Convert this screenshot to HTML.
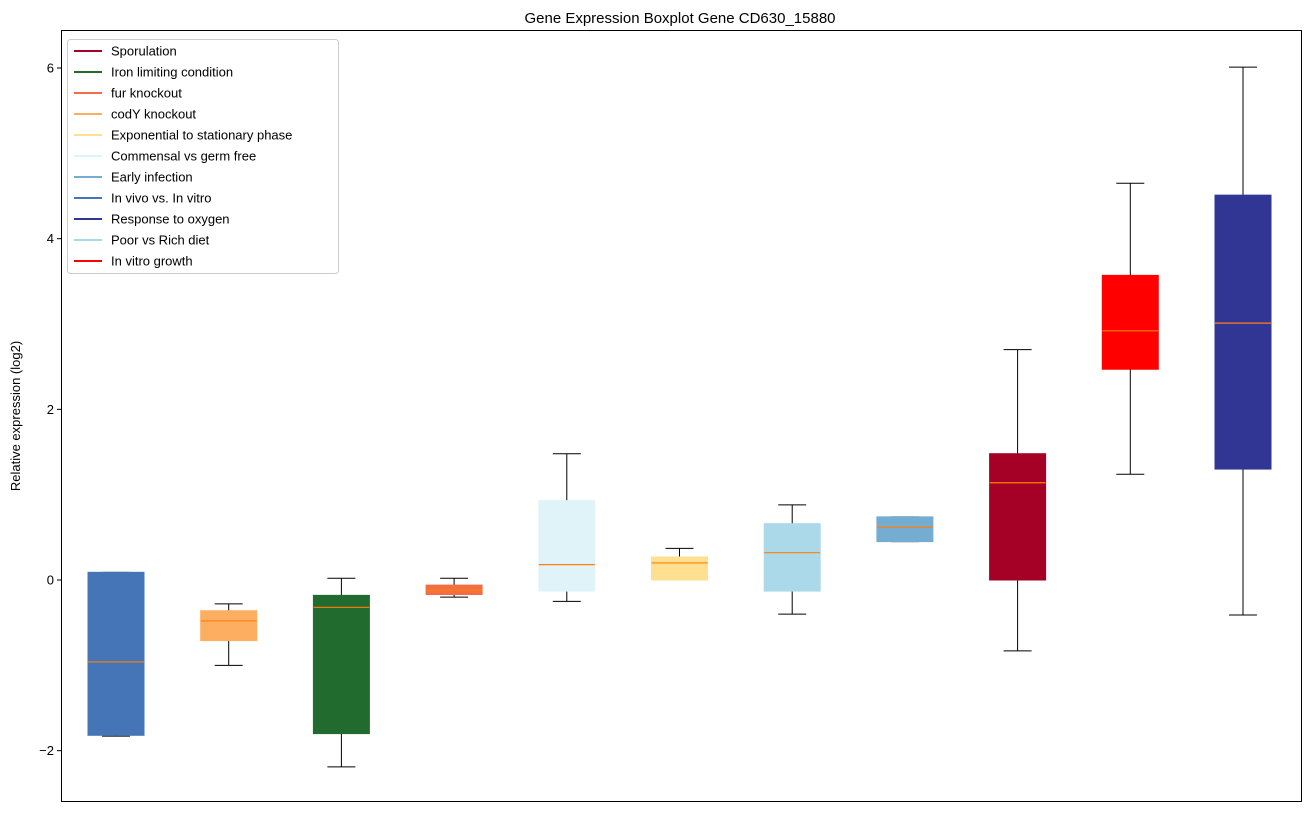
<!DOCTYPE html>
<html><head><meta charset="utf-8"><style>
body{margin:0;background:#fff;font-family:"Liberation Sans","DejaVu Sans",sans-serif}
svg text{font-family:"Liberation Sans","DejaVu Sans",sans-serif}
</style></head><body>
<svg id="chart" width="1309" height="812" xmlns="http://www.w3.org/2000/svg">
<text x="680" y="23" font-size="15" text-anchor="middle">Gene Expression Boxplot Gene CD630_15880</text>
<text transform="translate(20,416) rotate(-90)" font-size="13" text-anchor="middle">Relative expression (log2)</text>
<g id="plot"></g>
<rect x="61.5" y="30.5" width="1240" height="771" fill="none" stroke="#000" stroke-width="1"/>
<g id="legend"></g>
</svg>
<script>
const categories=["In vivo vs. In vitro","codY knockout","Iron limiting condition","fur knockout","Commensal vs germ free","Exponential to stationary phase","Poor vs Rich diet","Early infection","Sporulation","In vitro growth","Response to oxygen"];
const colors=["#4575b7","#fdae61","#226b2e","#f46d43","#e0f3f8","#fee090","#abd9e9","#74add1","#a50026","#ff0000","#313695"];
const whiskerLow=[-1.83,-1.0,-2.19,-0.2,-0.25,0.0,-0.4,0.45,-0.83,1.24,-0.41];
const q1=[-1.82,-0.71,-1.8,-0.17,-0.13,0.0,-0.13,0.45,0.0,2.47,1.3];
const median=[-0.96,-0.48,-0.32,-0.12,0.18,0.2,0.32,0.62,1.14,2.92,3.01];
const q3=[0.09,-0.36,-0.18,-0.06,0.93,0.27,0.66,0.74,1.48,3.57,4.51];
const whiskerHigh=[0.09,-0.28,0.02,0.02,1.48,0.37,0.88,0.74,2.7,4.65,6.01];
const yTicks=[-2,0,2,4,6];
const legendLabels=["Sporulation","Iron limiting condition","fur knockout","codY knockout","Exponential to stationary phase","Commensal vs germ free","Early infection","In vivo vs. In vitro","Response to oxygen","Poor vs Rich diet","In vitro growth"];
const legendColors=["#a50026","#226b2e","#f46d43","#fdae61","#fee090","#e0f3f8","#74add1","#4575b7","#313695","#abd9e9","#ff0000"];

const NS="http://www.w3.org/2000/svg";
const y=v=>580-v*85.33;
const x=i=>116+i*112.7;
const plot=document.getElementById('plot');
function mk(tag,attrs,parent){const e=document.createElementNS(NS,tag);for(const k in attrs)e.setAttribute(k,attrs[k]);parent.appendChild(e);return e;}
yTicks.forEach(t=>{
  const g=mk('g',{},plot);
  
  
  mk('line',{x1:57,x2:61,y1:y(t),y2:y(t),stroke:'#000'},g);
  const tx=mk('text',{x:54,y:y(t)+4.5,'font-size':13,'text-anchor':'end'},g);
  tx.textContent=t<0?'\u2212'+Math.abs(t):String(t);
});
categories.forEach((c,i)=>{
  const g=mk('g',{},plot);
  
  
  const cx=x(i),hw=28,cw=14;
  mk('line',{x1:cx,x2:cx,y1:y(q3[i]),y2:y(whiskerHigh[i]),stroke:'#000'},g);
  mk('line',{x1:cx,x2:cx,y1:y(q1[i]),y2:y(whiskerLow[i]),stroke:'#000'},g);
  mk('line',{x1:cx-cw,x2:cx+cw,y1:y(whiskerHigh[i]),y2:y(whiskerHigh[i]),stroke:'#000'},g);
  mk('line',{x1:cx-cw,x2:cx+cw,y1:y(whiskerLow[i]),y2:y(whiskerLow[i]),stroke:'#000'},g);
  mk('rect',{x:cx-hw,y:y(q3[i]),width:2*hw,height:Math.max(1,y(q1[i])-y(q3[i])),fill:colors[i],stroke:colors[i]},g);
  mk('line',{x1:cx-hw,x2:cx+hw,y1:y(median[i]),y2:y(median[i]),stroke:'#ff7f0e','stroke-width':1.2},g);
});
const lg=document.getElementById('legend');
mk('rect',{x:67.5,y:39.5,width:271,height:234,fill:'#fff',stroke:'#ccc',rx:3},lg);
legendLabels.forEach((l,i)=>{
  const g=mk('g',{},lg);
  
  
  const yy=51+i*21;
  mk('line',{x1:74,x2:102,y1:yy,y2:yy,stroke:legendColors[i],'stroke-width':2},g);
  const t=mk('text',{x:111,y:yy+4.5,'font-size':13},g);
  t.textContent=l;
});
</script>
</body></html>
